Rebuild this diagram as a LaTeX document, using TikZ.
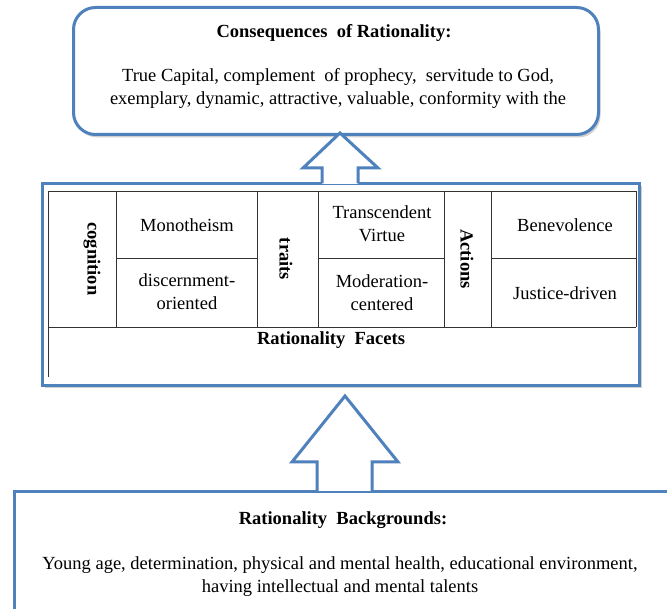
\documentclass[tikz,border=0pt]{standalone}
\usepackage{fontspec}
\setmainfont{Liberation Serif}
\usetikzlibrary{shadows}
\definecolor{bblue}{HTML}{4F81BD}
\begin{document}
\begin{tikzpicture}[x=1pt,y=1pt,
  frame/.style={draw=bblue, line width=3pt, fill=white, inner sep=0pt},
  shad/.style={drop shadow={opacity=0.3, shadow xshift=2pt, shadow yshift=-3pt, fill=black!60}},
  gridline/.style={draw=black!80, line width=0.8pt},
  txt/.style={font=\fontsize{18.5}{23}\selectfont, align=center, inner sep=0pt},
  btxt/.style={font=\fontsize{18.5}{23}\selectfont\bfseries, align=center, inner sep=0pt},
  vtxt/.style={btxt, rotate=-90},
  arr/.style={draw=bblue, line width=3pt, line join=miter}
]
\useasboundingbox (0,0) rectangle (667,-609);
\fill[white] (0,0) rectangle (667,-609);
\begin{scope}
\clip (0,0) rectangle (667,-609);
% top box
\node[frame, shad, rounded corners=22pt, minimum width=525pt, minimum height=127pt, anchor=north west] (cons) at (72,-6) {};
\node[btxt] (consT) at (334,-33) {Consequences\ \ of Rationality:};
\node[txt] (consB) at (338,-88) {True Capital, complement\ \ of prophecy,\ \ servitude to God,\\exemplary, dynamic, attractive, valuable, conformity with the};
% middle box
\node[frame, shad, minimum width=597pt, minimum height=202pt, anchor=north west] (facets) at (41,-182) {};
% arrow 1
\fill[white] (322,-184) -- (322,-168) -- (303,-168) -- (340,-133) -- (378,-168) -- (358,-168) -- (358,-184) -- cycle;
\draw[arr] (322,-183.5) -- (322,-168) -- (303,-168) -- (340,-133) -- (378,-168) -- (358,-168) -- (358,-183.5);
% table
\draw[gridline] (48,-377) -- (48,-191) -- (636,-191) -- (636,-327);
\draw[gridline] (48,-327) -- (636,-327);
\foreach \x in {116,257,318,444,491} \draw[gridline] (\x,-191) -- (\x,-327);
\draw[gridline] (116,-258) -- (257,-258);
\draw[gridline] (318,-258) -- (444,-258);
\draw[gridline] (491,-258) -- (636,-258);
\node[vtxt] (cog) at (92,-259) {cognition};
\node[txt] (mono) at (187,-225) {Monotheism};
\node[txt] (disc) at (187,-292) {discernment-\\oriented};
\node[vtxt] (traits) at (286,-259) {traits};
\node[txt] (trans) at (382,-224) {Transcendent\\Virtue};
\node[txt] (moder) at (382,-293) {Moderation-\\centered};
\node[vtxt] (act) at (467,-259) {Actions};
\node[txt] (bene) at (565,-225) {Benevolence};
\node[txt] (just) at (565,-293) {Justice-driven};
\node[btxt] (rf) at (331,-340) {Rationality\ \ Facets};
% bottom box
\node[frame, shad, minimum width=680pt, minimum height=170pt, anchor=north west] (back) at (13,-490) {};
% arrow 2
\fill[white] (317,-491) -- (317,-462) -- (292,-462) -- (345,-396) -- (398,-462) -- (372,-462) -- (372,-491) -- cycle;
\draw[arr] (317,-491.5) -- (317,-462) -- (292,-462) -- (345,-396) -- (398,-462) -- (372,-462) -- (372,-491.5);
\node[btxt] (backT) at (343,-520) {Rationality\ \ Backgrounds:};
\node[txt] (backB) at (340,-577) {Young age, determination, physical and mental health, educational environment,\\having intellectual and mental talents};
\end{scope}
\end{tikzpicture}
\end{document}
